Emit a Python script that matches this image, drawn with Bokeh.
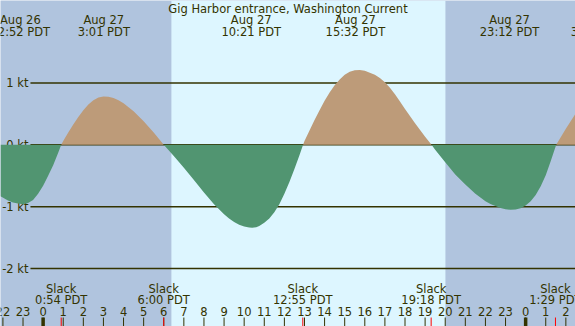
from bokeh.plotting import figure
from bokeh.models import Range1d
from bokeh.core.properties import value
from bokeh.embed import file_html
from bokeh.resources import INLINE
import numpy as np

title = "Gig Harbor entrance, Washington Current"

# hours since Aug 27 00:00 PDT, current speed in knots
hours = [-2.12, -1.75, -1.5, -1.25, -1.0, -0.75, -0.5, -0.25, 0.0, 0.25, 0.5, 0.75, 0.9,
         1.0, 1.25, 1.5, 1.75, 2.0, 2.25, 2.5, 2.75, 3.0, 3.25, 3.5, 3.75, 4.0, 4.5,
         5.0, 5.5, 6.0, 6.5, 7.0, 7.5, 8.0, 8.5, 9.0, 9.25, 9.5, 9.75, 10.0, 10.25,
         10.4, 10.6, 10.75, 11.0, 11.25, 11.5, 11.75, 12.0, 12.25, 12.5, 12.75, 12.93,
         13.0, 13.25, 13.5, 13.75, 14.0, 14.25, 14.5, 14.75, 15.0, 15.25, 15.5, 15.75,
         16.0, 16.25, 16.5, 16.75, 17.0, 17.25, 17.5, 17.75, 18.0, 18.5, 19.0, 19.32,
         19.5, 20.0, 20.5, 21.0, 21.5, 22.0, 22.25, 22.5, 22.75, 23.0, 23.25, 23.5,
         23.75, 24.0, 24.25, 24.5, 24.75, 25.0, 25.25, 25.52, 26.0, 26.48]
knots = [-0.83, -0.90, -0.93, -0.95, -0.96, -0.94, -0.89, -0.79, -0.66, -0.50, -0.33, -0.13, 0.0,
         0.06, 0.20, 0.33, 0.45, 0.56, 0.65, 0.72, 0.765, 0.78, 0.775, 0.755, 0.72, 0.67, 0.54,
         0.38, 0.20, 0.0, -0.18, -0.37, -0.57, -0.77, -0.96, -1.12, -1.19, -1.245, -1.29, -1.32, -1.337,
         -1.34, -1.333, -1.31, -1.26, -1.19, -1.09, -0.96, -0.79, -0.60, -0.39, -0.17, 0.0,
         0.06, 0.23, 0.40, 0.56, 0.71, 0.845, 0.96, 1.055, 1.13, 1.18, 1.205, 1.21,
         1.195, 1.165, 1.13, 1.08, 1.01, 0.92, 0.815, 0.70, 0.58, 0.35, 0.13, 0.0,
         -0.08, -0.28, -0.48, -0.64, -0.79, -0.91, -0.955, -0.99, -1.02, -1.04, -1.05, -1.045,
         -1.025, -0.98, -0.91, -0.81, -0.67, -0.49, -0.26, 0.0, 0.26, 0.50]

# max / min events (top labels)
event_hours = [-1.133, 3.017, 10.35, 15.533, 23.2, 27.55]
event_dates = ["Aug 26", "Aug 27", "Aug 27", "Aug 27", "Aug 27", "Aug 28"]
event_times = ["22:52 PDT", "3:01 PDT", "10:21 PDT", "15:32 PDT", "23:12 PDT", "3:33 PDT"]

# slack events (bottom labels)
slack_hours = [0.9, 6.0, 12.917, 19.3, 25.483]
slack_times = ["0:54 PDT", "6:00 PDT", "12:55 PDT", "19:18 PDT", "1:29 PDT"]

sunrise = 6.38
sunset = 20.01

grid_levels = [1, 0, -1, -2]
grid_labels = ["1 kt", "0 kt", "-1 kt", "-2 kt"]

tick_hours = list(range(-2, 27))
tick_labels = [str(h % 24) for h in tick_hours]
midnights = [0, 24]

# styles
NIGHT = "#b0c4de"
DAY = "#ddf6ff"
TAN = "#bd9b79"
GREEN = "#519571"
INK = "#333300"
FONT = value("DejaVu Sans")
FS = "11.5px"

x0, x1 = -2.12, 26.48
y0, y1 = -2.935, 2.331

p = figure(width=575, height=326, output_backend="svg", toolbar_location=None,
           x_range=Range1d(x0, x1), y_range=Range1d(y0, y1),
           x_axis_type=None, y_axis_type=None, min_border=0)
p.outline_line_color = None
p.background_fill_color = NIGHT
p.border_fill_color = NIGHT
p.xgrid.visible = False
p.ygrid.visible = False

# daylight band
p.quad(left=[sunrise], right=[sunset], bottom=[y0], top=[y1], fill_color=DAY, line_color=None)

# grid lines
p.segment(x0=[-0.63] * len(grid_levels), x1=[x1] * len(grid_levels),
          y0=grid_levels, y1=grid_levels, line_color=INK, line_width=1.5)
p.text(x=[-0.73] * len(grid_levels), y=grid_levels, text=grid_labels,
       text_align="right", text_baseline="middle", text_color=INK,
       text_font=FONT, text_font_size=FS)

# current fills
h = np.array(hours)
k = np.array(knots)
p.varea(x=h, y1=np.zeros_like(k), y2=np.maximum(k, 0), fill_color=TAN)
p.varea(x=h, y1=np.zeros_like(k), y2=np.minimum(k, 0), fill_color=GREEN)

# title
p.text(x=[(x0 + x1) / 2], y=[2.20], text=[title], text_align="center",
       text_baseline="middle", text_color=INK, text_font=FONT, text_font_size=FS)

# top event labels
p.text(x=event_hours, y=[2.008] * len(event_hours), text=event_dates, text_align="center",
       text_baseline="middle", text_color=INK, text_font=FONT, text_font_size=FS)
p.text(x=event_hours, y=[1.822] * len(event_hours), text=event_times, text_align="center",
       text_baseline="middle", text_color=INK, text_font=FONT, text_font_size=FS)

# slack labels
p.text(x=slack_hours, y=[-2.326] * len(slack_hours), text=["Slack"] * len(slack_hours),
       text_align="center", text_baseline="middle", text_color=INK,
       text_font=FONT, text_font_size=FS)
p.text(x=slack_hours, y=[-2.515] * len(slack_hours), text=slack_times,
       text_align="center", text_baseline="middle", text_color=INK,
       text_font=FONT, text_font_size=FS)

# hour labels and ticks
p.text(x=tick_hours, y=[-2.693] * len(tick_hours), text=tick_labels,
       text_align="center", text_baseline="middle", text_color=INK,
       text_font=FONT, text_font_size=FS)
p.segment(x0=tick_hours, x1=tick_hours, y0=[-2.79] * len(tick_hours),
          y1=[y0] * len(tick_hours), line_color=INK, line_width=1)
p.segment(x0=midnights, x1=midnights, y0=[-2.79] * len(midnights),
          y1=[y0] * len(midnights), line_color=INK, line_width=3.5)
p.segment(x0=slack_hours, x1=slack_hours, y0=[-2.79] * len(slack_hours),
          y1=[y0] * len(slack_hours), line_color="red", line_width=1)

open("out.html", "w").write(file_html(p, INLINE))
